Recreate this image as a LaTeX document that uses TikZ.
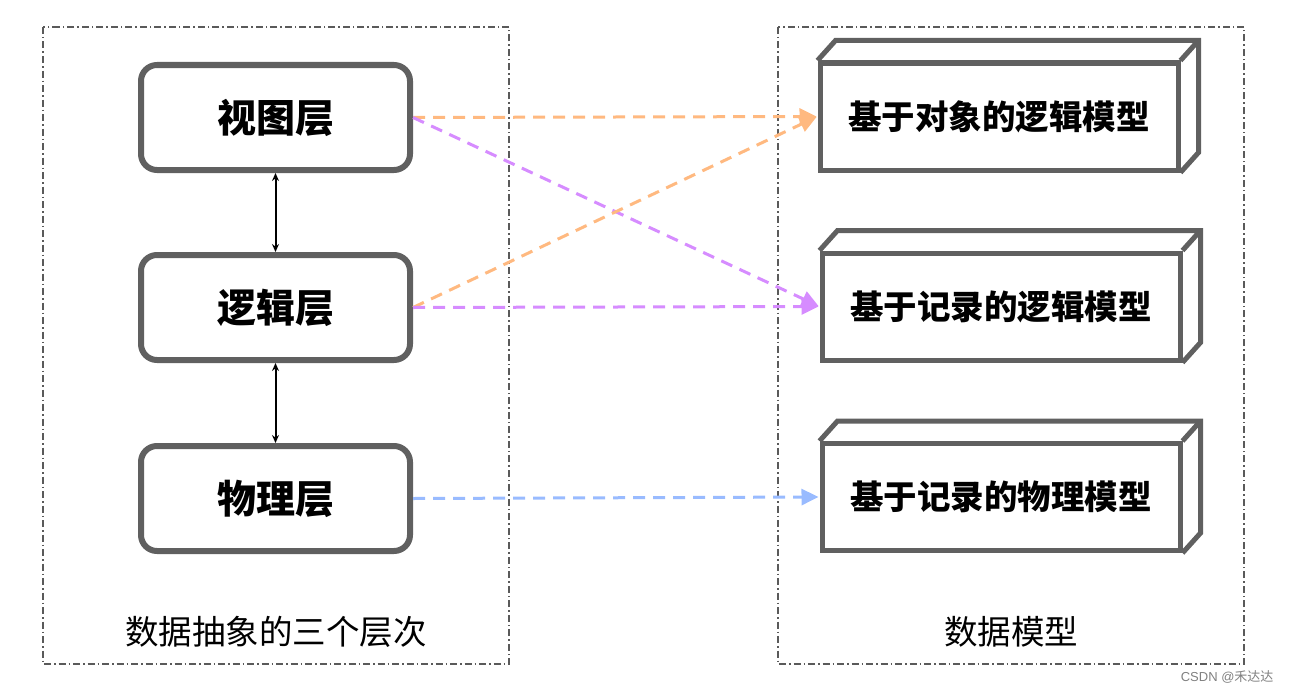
\documentclass[tikz,border=0pt]{standalone}
\usepackage{fontspec}
\setmainfont{Liberation Sans}
\newfontfamily\cjk{Noto Sans CJK SC}
\usetikzlibrary{arrows.meta}
\definecolor{boxgray}{RGB}{96,96,96}
\definecolor{frmgray}{RGB}{90,90,90}
\definecolor{orng}{RGB}{255,185,128}
\definecolor{purp}{RGB}{214,140,255}
\definecolor{blu}{RGB}{153,187,255}
\tikzset{
  frame/.style={draw=frmgray,line width=1.3pt,dash pattern=on 7pt off 3pt on 1.5pt off 3pt},
  layer/.style={draw=boxgray,line width=6pt,rounded corners=16pt,fill=white,minimum width=269pt,minimum height=105pt,inner sep=0pt,font=\cjk\bfseries\fontsize{39}{42}\selectfont},
  modelface/.style={draw=boxgray,line width=5pt,fill=white,minimum width=358pt,minimum height=107pt,inner sep=0pt,font=\cjk\bfseries\fontsize{33.5}{36}\selectfont},
  cube/.style={draw=boxgray,line width=5pt,line join=miter},
  link/.style={line width=3pt,dash pattern=on 12pt off 8pt,shorten >=1pt,-{Triangle[length=17pt,width=16pt]}},
  updown/.style={line width=2pt,{Stealth[length=8pt,width=7pt]}-{Stealth[length=8pt,width=7pt]}},
  caption/.style={font=\cjk\fontsize{33.5}{36}\selectfont}
}
\begin{document}
\begin{tikzpicture}[x=1pt,y=-1pt]
\useasboundingbox (0,0) rectangle (1292,693);
% frames
\draw[frame] (43,27) rectangle (509,664);
\draw[frame] (778,27) rectangle (1244,664);
% layers
\node[layer] (v) at (275.5,117.5) {视图层};
\node[layer] (l) at (275.5,307.5) {逻辑层};
\node[layer] (p) at (275.5,498.5) {物理层};
% model boxes (3D)
\foreach \n/\cx/\cy/\t in {m1/999/116.5/基于对象的逻辑模型, m2/1001/306.5/基于记录的逻辑模型, m3/1001/497/基于记录的物理模型}{
  \node[modelface] (\n) at (\cx,\cy) {\t};
  \draw[cube] (\n.north west) -- ++(18,-20) -- ([xshift=18pt,yshift=20pt]\n.north east) -- ([xshift=18pt,yshift=20pt]\n.south east) -- (\n.south east);
  \draw[cube] (\n.north east) -- ++(18,-20);
}
% vertical arrows
\draw[updown] (v.south) -- (l.north);
\draw[updown] (l.south) -- (p.north);
% links
\draw[link,orng] (v.east) -- (m1.west);
\draw[link,purp] (v.east) -- (m2.west);
\draw[link,orng] (l.east) -- (m1.west);
\draw[link,purp] (l.east) -- (m2.west);
\draw[link,blu] (p.east) -- (m3.west);
% captions
\node[caption] (c1) at (276,632) {数据抽象的三个层次};
\node[caption] (c2) at (1011,632) {数据模型};
\node[font=\fontsize{13}{15}\selectfont,text=gray,anchor=east] (w) at (1277,677) {CSDN @{\cjk 禾达达}};
\end{tikzpicture}
\end{document}
